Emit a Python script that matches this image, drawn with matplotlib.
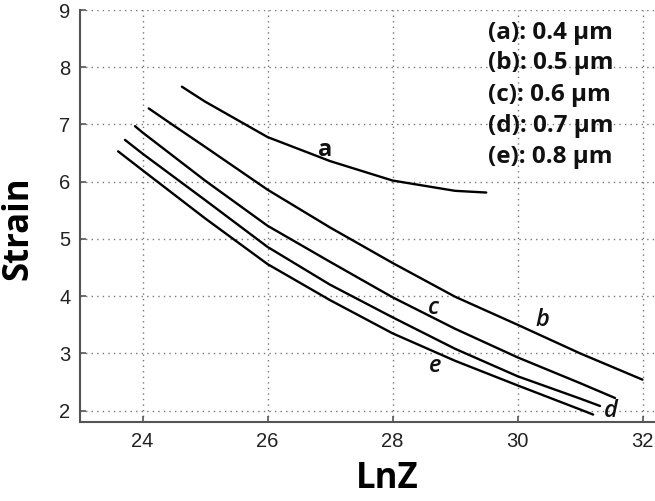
import numpy as np
import matplotlib.pyplot as plt

# strain vs LnZ for five grain sizes
a_x = [24.63, 24.8, 25.0, 26.0, 27.0, 28.0, 29.0, 29.5]
a_y = [7.66, 7.54, 7.40, 6.78, 6.36, 6.02, 5.84, 5.81]
b_x = [24.1, 24.5, 25.0, 26.0, 27.0, 28.0, 29.0, 30.0, 31.0, 32.0]
b_y = [7.28, 6.98, 6.61, 5.86, 5.20, 4.58, 3.99, 3.50, 3.00, 2.54]
c_x = [23.88, 24.0, 25.0, 26.0, 27.0, 28.0, 29.0, 30.0, 31.0, 31.56]
c_y = [6.97, 6.86, 6.02, 5.23, 4.60, 3.98, 3.43, 2.93, 2.48, 2.22]
d_x = [23.72, 24.0, 25.0, 26.0, 27.0, 28.0, 29.0, 30.0, 31.0, 31.32]
d_y = [6.73, 6.49, 5.68, 4.86, 4.20, 3.63, 3.08, 2.60, 2.21, 2.08]
e_x = [23.61, 24.0, 25.0, 26.0, 27.0, 28.0, 29.0, 30.0, 31.0, 31.21]
e_y = [6.53, 6.20, 5.36, 4.56, 3.93, 3.35, 2.87, 2.44, 2.02, 1.93]

curve_labels = ["a", "b", "c", "d", "e"]
label_pos = [(26.92, 6.55), (30.40, 3.59), (28.65, 3.80), (31.50, 1.99), (28.68, 2.78)]
legend_lines = ["(a): 0.4 µm", "(b): 0.5 µm", "(c): 0.6 µm", "(d): 0.7 µm", "(e): 0.8 µm"]
legend_y = [8.60, 8.07, 7.52, 6.98, 6.43]

bold_font = ["Open Sans", "DejaVu Sans"]

fig = plt.figure(figsize=(6.55, 5.01), dpi=100)
ax = fig.add_axes([80/655, 79/501, 575/655, 412/501])

for xs, ys in [(a_x, a_y), (b_x, b_y), (c_x, c_y), (d_x, d_y), (e_x, e_y)]:
    ax.plot(xs, ys, color="black", lw=1.7, solid_capstyle="round")

for lab, (lx, ly) in zip(curve_labels, label_pos):
    ax.text(lx, ly, lab, fontsize=17, family=bold_font,
            style="normal" if lab == "a" else "italic",
            fontweight="bold" if lab == "a" else "semibold",
            ha="center", va="center", color="#111111")

for txt, ly in zip(legend_lines, legend_y):
    ax.text(29.53, ly, txt, fontsize=17.5, family=bold_font, fontweight="bold",
            ha="left", va="center", color="#111111")

ax.set_xlim(23, 32.2)
ax.set_ylim(1.8, 9)
ax.set_xticks([24, 26, 28, 30, 32])
ax.set_yticks([2, 3, 4, 5, 6, 7, 8, 9])
ax.grid(True, linestyle=(0, (1, 3)), color="#777777", lw=1.0)
ax.tick_params(direction="in", length=4, width=1.2, colors="#555555",
               labelcolor="#222222", labelsize=14.5, pad=7)
for lbl in ax.get_xticklabels() + ax.get_yticklabels():
    lbl.set_family("Liberation Sans")
ax.spines["top"].set_visible(False)
ax.spines["right"].set_visible(False)
for s in ["left", "bottom"]:
    ax.spines[s].set_color("#555555")
    ax.spines[s].set_linewidth(1.5)

fig.text(387/655, 1 - 479/501, "LnZ", fontsize=25, family=bold_font,
         fontweight="bold", ha="center", va="center")
fig.text(18/655, 1 - 228/501, "Strain", fontsize=25, family=bold_font,
         fontweight="bold", ha="center", va="center", rotation=90)

fig.savefig("out.png", dpi=100)
